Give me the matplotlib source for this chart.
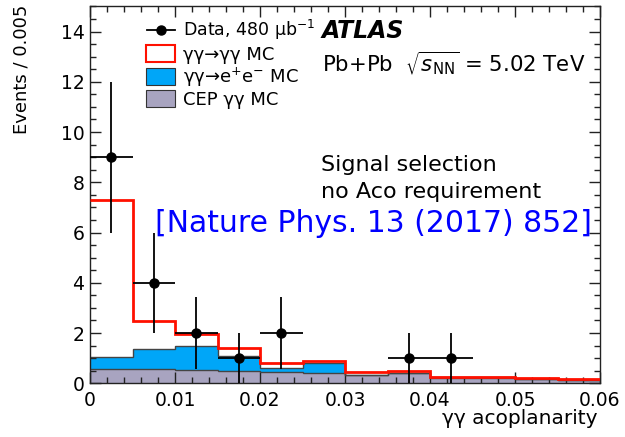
import numpy as np
import matplotlib
matplotlib.use("Agg")
import matplotlib.pyplot as plt
from matplotlib.patches import Rectangle
from matplotlib.lines import Line2D
from matplotlib.ticker import MultipleLocator

plt.rcParams['font.family'] = ['DejaVu Sans']
plt.rcParams['mathtext.fontset'] = 'dejavusans'

# ---- data ----
bin_edges = [0.0, 0.005, 0.010, 0.015, 0.020, 0.025, 0.030, 0.035, 0.040, 0.045, 0.050, 0.055, 0.060]
cep_gg = [0.56, 0.55, 0.51, 0.47, 0.44, 0.41, 0.33, 0.40, 0.23, 0.23, 0.17, 0.13]
gg_ee = [0.47, 0.82, 0.96, 0.63, 0.16, 0.38, 0.02, 0.02, 0.01, 0.01, 0.01, 0.01]
gg_gg = [6.27, 1.10, 0.50, 0.30, 0.20, 0.10, 0.08, 0.05, 0.03, 0.03, 0.03, 0.03]
data_counts = [9, 4, 2, 1, 2, 0, 0, 1, 1, 0, 0, 0]
data_err = [3.0, 2.0, 1.42, 1.0, 1.42, 0.0, 0.0, 1.0, 1.0, 0.0, 0.0, 0.0]

W, H = 625, 437
fig = plt.figure(figsize=(W / 100, H / 100), dpi=100)
def X(px):
    return px / W
def Y(py):
    return 1 - py / H

ax = fig.add_axes([X(90), Y(383.3), X(600) - X(90), Y(6.4) - Y(383.3)])

edges = np.array(bin_edges)
cep = np.array(cep_gg)
ee = np.array(gg_ee)
sig = np.array(gg_gg)
lvl1 = cep
lvl2 = cep + ee
lvl3 = cep + ee + sig

grey = '#a8a4c0'
blue = '#00a6f8'
red = '#ff1000'
ax.stairs(lvl1, edges, baseline=0, fill=True, color=grey, zorder=1)
ax.stairs(lvl2, edges, baseline=lvl1, fill=True, color=blue, zorder=1)
ax.stairs(lvl1, edges, baseline=None, color='#444444', lw=1.0, zorder=2)
ax.stairs(lvl2, edges, baseline=None, color='#444444', lw=1.0, zorder=2)
ax.stairs(lvl3, edges, baseline=None, color=red, lw=2.0, zorder=3)

centers = 0.5 * (edges[:-1] + edges[1:])
halfw = 0.5 * np.diff(edges)
cnt = np.array(data_counts, dtype=float)
err = np.array(data_err)
m = cnt > 0
ax.errorbar(centers[m], cnt[m], yerr=err[m], xerr=halfw[m], fmt='o', color='black',
            ms=6.5, elinewidth=1.3, capsize=0, zorder=5)

ax.set_xlim(0, 0.06)
ax.set_ylim(0, 15)
ax.xaxis.set_minor_locator(MultipleLocator(0.002))
ax.yaxis.set_major_locator(MultipleLocator(2))
ax.yaxis.set_minor_locator(MultipleLocator(0.5))
ax.set_xticks(np.arange(0, 0.0601, 0.01))
ax.set_xticklabels(['0', '0.01', '0.02', '0.03', '0.04', '0.05', '0.06'])
ax.tick_params(which='both', direction='in', top=True, right=True, labelsize=13.5, color='#222222')
ax.tick_params(which='major', length=8, width=1.0)
ax.tick_params(which='minor', length=4.5, width=1.0)
ax.tick_params(axis='x', pad=5.5)
ax.tick_params(axis='y', pad=4)
for s in ax.spines.values():
    s.set_linewidth(1.0)
    s.set_color('#222222')

fig.text(X(22), Y(5), 'Events / 0.005', rotation=90, ha='center', va='top', fontsize=13)
fig.text(X(598), Y(424.5), 'γγ acoplanarity', ha='right', va='baseline', fontsize=14.5)

# legend (manual, ROOT-like)
lfs = 12.5
fig.add_artist(Line2D([X(147), X(175)], [Y(30), Y(30)], color='black', lw=1.3, transform=fig.transFigure))
fig.add_artist(Line2D([X(161)], [Y(30)], marker='o', ms=6.5, color='black', transform=fig.transFigure))
fig.text(X(183), Y(36.5), r'Data, 480 $\mathregular{\mu b^{-1}}$', fontsize=lfs, va='baseline')
boxes = [('white', red, 'γγ→γγ MC', 53),
         (blue, '#333333', r'γγ→e$^{+}$e$^{-}$ MC', 76),
         (grey, '#333333', 'CEP γγ MC', 98.5)]
for fc, ec, lab, yc in boxes:
    fig.add_artist(Rectangle((X(146), Y(yc + 8.5)), X(175) - X(146), Y(yc - 8.5) - Y(yc + 8.5),
                             facecolor=fc, edgecolor=ec, lw=1.5 if ec == red else 0.8,
                             transform=fig.transFigure))
    fig.text(X(183), Y(yc + 6.5), lab, fontsize=lfs + 0.5, va='baseline')

fig.text(X(322), Y(37.7), 'ATLAS', fontsize=17, fontweight='bold', fontstyle='italic', va='baseline')
fig.text(X(322), Y(72), r'Pb+Pb  $\sqrt{s_{\mathrm{NN}}}$ = 5.02 TeV', fontsize=15.3, va='baseline')
fig.text(X(321), Y(171), 'Signal selection', fontsize=16, va='baseline')
fig.text(X(321), Y(198), 'no Aco requirement', fontsize=16, va='baseline')
fig.text(X(155), Y(232), '[Nature Phys. 13 (2017) 852]', fontsize=21.5, va='baseline', color='#0000ff')

fig.savefig('out.png', dpi=100)
